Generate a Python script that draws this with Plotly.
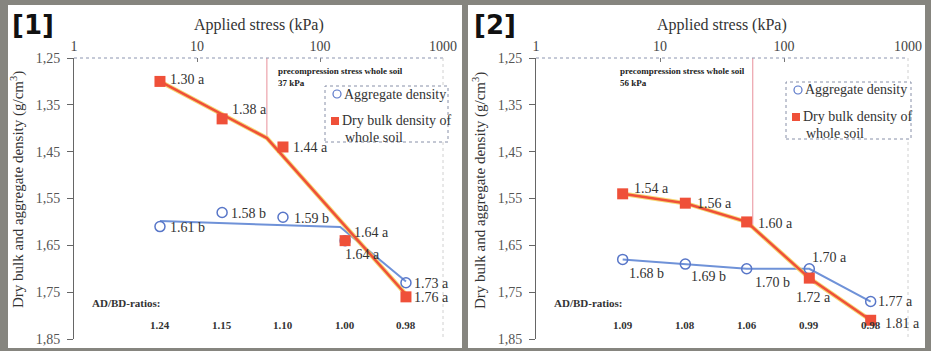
import math
import plotly.graph_objects as go

# ---------------- data ----------------
stress = [5, 16, 50, 160, 500]

p1_bulk = [1.30, 1.38, 1.44, 1.64, 1.76]
p1_bulk_sig = ["a", "a", "a", "a", "a"]
p1_agg = [1.61, 1.58, 1.59, 1.64, 1.73]
p1_agg_sig = ["b", "b", "b", "a", "a"]
p1_bulk_fit_x = [5, 37, 500]
p1_bulk_fit_y = [1.30, 1.421, 1.755]
p1_agg_fit_x = [5, 146, 500]
p1_agg_fit_y = [1.598, 1.611, 1.727]
p1_ratios = ["1.24", "1.15", "1.10", "1.00", "0.98"]
p1_precomp = 37
p1_precomp_y = 1.421

p2_bulk = [1.54, 1.56, 1.60, 1.72, 1.81]
p2_bulk_sig = ["a", "a", "a", "a", "a"]
p2_agg = [1.68, 1.69, 1.70, 1.70, 1.77]
p2_agg_sig = ["b", "b", "b", "a", "a"]
p2_ratios = ["1.09", "1.08", "1.06", "0.99", "0.98"]
p2_precomp = 56
p2_precomp_y = 1.612

y_ticks = [1.25, 1.35, 1.45, 1.55, 1.65, 1.75, 1.85]
y_ticktext = ["1,25", "1,35", "1,45", "1,55", "1,65", "1,75", "1,85"]
x_ticks = [1, 10, 100, 1000]
x_ticktext = ["1", "10", "100", "1000"]

# ---------------- layout helpers ----------------
W, H = 931, 351
def px(x):
    return x / W
def py(y):
    return 1 - y / H

SERIF = "Liberation Serif"
RED = "#EF5039"
YEL = "#F4CF52"
BLUE = "#6F92D8"
BLUE_M = "#5876C8"
TXT = "#333333"

fig = go.Figure()

panels = [
    dict(xa="x", ya="y", left=74, right=443, bulk=p1_bulk, agg=p1_agg,
         bsig=p1_bulk_sig, asig=p1_agg_sig,
         bfx=p1_bulk_fit_x, bfy=p1_bulk_fit_y, afx=p1_agg_fit_x, afy=p1_agg_fit_y,
         ratios=p1_ratios, pc=p1_precomp, pcy=p1_precomp_y, label="[1]"),
    dict(xa="x2", ya="y2", left=536, right=908, bulk=p2_bulk, agg=p2_agg,
         bsig=p2_bulk_sig, asig=p2_agg_sig,
         bfx=stress, bfy=p2_bulk, afx=stress, afy=p2_agg,
         ratios=p2_ratios, pc=p2_precomp, pcy=p2_precomp_y, label="[2]"),
]

# label offsets (xshift, yshift, xanchor)
p1_bulk_off = [(8, 2, "left"), (8, 9, "left"), (8, -1, "left"), (-2, -14, "left"), (6, -1, "left")]
p1_agg_off = [(8, -1, "left"), (7, -1, "left"), (9, -1, "left"), (7, 8, "left"), (6, -1, "left")]
p2_bulk_off = [(9, 5, "left"), (10, 0, "left"), (9, -2, "left"), (4, -19, "center"), (12, -3, "left")]
p2_agg_off = [(4, -14, "left"), (4, -12, "left"), (6, -14, "left"), (1, 11, "left"), (5, 0, "left")]
offs = [(p1_bulk_off, p1_agg_off), (p2_bulk_off, p2_agg_off)]

shapes = []
annotations = []

# white panels
for (l, r) in [(8, 462), (468, 925)]:
    shapes.append(dict(type="rect", xref="paper", yref="paper", x0=px(l), x1=px(r),
                       y0=py(348), y1=py(5), fillcolor="white", line=dict(width=0), layer="below"))

for i, p in enumerate(panels):
    xa, ya = p["xa"], p["ya"]
    L, R = p["left"], p["right"]
    # precompression vertical line
    fig.add_trace(go.Scatter(x=[p["pc"], p["pc"]], y=[1.25, p["pcy"]], mode="lines",
                             line=dict(color="#E8909A", width=1), xaxis=xa, yaxis=ya,
                             showlegend=False, hoverinfo="skip"))
    # aggregate fit line
    fig.add_trace(go.Scatter(x=p["afx"], y=p["afy"], mode="lines",
                             line=dict(color=BLUE, width=2), xaxis=xa, yaxis=ya,
                             showlegend=False, hoverinfo="skip"))
    # bulk fit line (yellow halo + red)
    fig.add_trace(go.Scatter(x=p["bfx"], y=p["bfy"], mode="lines",
                             line=dict(color=YEL, width=4.5), opacity=0.8, xaxis=xa, yaxis=ya,
                             showlegend=False, hoverinfo="skip"))
    fig.add_trace(go.Scatter(x=p["bfx"], y=p["bfy"], mode="lines",
                             line=dict(color=RED, width=2.5), xaxis=xa, yaxis=ya,
                             showlegend=False, hoverinfo="skip"))
    # markers
    fig.add_trace(go.Scatter(x=stress, y=p["agg"], mode="markers",
                             marker=dict(symbol="circle-open", size=10, color=BLUE_M,
                                         line=dict(width=1.5, color=BLUE_M)),
                             xaxis=xa, yaxis=ya, showlegend=False))
    fig.add_trace(go.Scatter(x=stress, y=p["bulk"], mode="markers",
                             marker=dict(symbol="square", size=11, color=RED),
                             xaxis=xa, yaxis=ya, showlegend=False))

    # value labels
    boff, aoff = offs[i]
    for j, s in enumerate(stress):
        for vals, sig, off in [(p["bulk"], p["bsig"], boff), (p["agg"], p["asig"], aoff)]:
            xs, ys, anc = off[j]
            annotations.append(dict(x=math.log10(s), y=vals[j], xref=xa, yref=ya,
                                    text=f"{vals[j]:.2f} {sig[j]}", showarrow=False,
                                    xanchor=anc, yanchor="middle", xshift=xs, yshift=ys,
                                    font=dict(family=SERIF, size=14, color=TXT)))
        # ratio labels
        annotations.append(dict(x=math.log10(s), y=1.82, xref=xa, yref=ya, text=f"<b>{p['ratios'][j]}</b>",
                                showarrow=False, xanchor="center", yanchor="middle",
                                font=dict(family=SERIF, size=11, color=TXT)))
    annotations.append(dict(x=px(L + 16), y=py(303), xref="paper", yref="paper",
                            text="<b>AD/BD-ratios:</b>", showarrow=False, xanchor="left",
                            yanchor="middle", font=dict(family=SERIF, size=11, color=TXT)))

    # precompression text
    pc_text = f"<b>precompression stress whole soil<br>{p['pc']} kPa</b>"
    if i == 0:
        annotations.append(dict(x=math.log10(p["pc"]), y=1.25, xref=xa, yref=ya, text=pc_text,
                                showarrow=False, xanchor="left", yanchor="top", align="left",
                                xshift=9, yshift=-6,
                                font=dict(family=SERIF, size=9, color="#222")))
    else:
        annotations.append(dict(x=math.log10(p["pc"]), y=1.25, xref=xa, yref=ya, text=pc_text,
                                showarrow=False, xanchor="right", yanchor="top", align="left",
                                xshift=-6, yshift=-6,
                                font=dict(family=SERIF, size=9, color="#222")))

    # frame: dotted top, dotted right
    shapes.append(dict(type="line", xref="paper", yref="paper", x0=px(L), x1=px(R),
                       y0=py(58), y1=py(58), line=dict(color="#8C95B0", width=1, dash="dot")))
    shapes.append(dict(type="line", xref="paper", yref="paper", x0=px(R), x1=px(R),
                       y0=py(58), y1=py(339), line=dict(color="#D0D0D0", width=1, dash="dot")))

    # legend box
    if i == 0:
        bx0, bx1, by0, by1 = 325, 448, 86, 142
    else:
        bx0, bx1, by0, by1 = 786, 911, 82, 139
    shapes.append(dict(type="rect", xref="paper", yref="paper", x0=px(bx0), x1=px(bx1),
                       y0=py(by1), y1=py(by0), line=dict(color="#8890A8", width=1, dash="dot"),
                       fillcolor="white"))
    cx, cy = bx0 + 12, by0 + 8
    shapes.append(dict(type="circle", xref="paper", yref="paper", x0=px(cx - 4), x1=px(cx + 4),
                       y0=py(cy + 4), y1=py(cy - 4), line=dict(color=BLUE_M, width=1.2)))
    sx, sy = bx0 + 10, by0 + 35
    shapes.append(dict(type="rect", xref="paper", yref="paper", x0=px(sx - 4), x1=px(sx + 4),
                       y0=py(sy + 4), y1=py(sy - 4), line=dict(width=0), fillcolor=RED))
    annotations.append(dict(x=px(cx + 5), y=py(cy), xref="paper", yref="paper",
                            text="Aggregate density", showarrow=False, xanchor="left",
                            yanchor="middle", font=dict(family=SERIF, size=14, color=TXT)))
    annotations.append(dict(x=px(sx + 5), y=py(sy), xref="paper", yref="paper",
                            text="Dry bulk density of", showarrow=False, xanchor="left",
                            yanchor="middle", font=dict(family=SERIF, size=14, color=TXT)))
    annotations.append(dict(x=px(sx + 8), y=py(sy + 16), xref="paper", yref="paper",
                            text="whole soil", showarrow=False, xanchor="left",
                            yanchor="middle", font=dict(family=SERIF, size=14, color=TXT)))

    # titles
    annotations.append(dict(x=px((L + R) / 2), y=py(25), xref="paper", yref="paper",
                            text="Applied stress (kPa)", showarrow=False, xanchor="center",
                            yanchor="middle", font=dict(family=SERIF, size=16, color=TXT)))
    annotations.append(dict(x=px(L - 57), y=py(190), xref="paper", yref="paper",
                            text="Dry bulk and aggregate density (g/cm<sup>3</sup>)", showarrow=False,
                            textangle=-90, xanchor="center", yanchor="middle",
                            font=dict(family=SERIF, size=15, color=TXT)))
    annotations.append(dict(x=px(L - 64), y=py(25), xref="paper", yref="paper",
                            text="<b>" + p["label"] + "</b>", showarrow=False, xanchor="left",
                            yanchor="middle", font=dict(family="DejaVu Sans", size=26, color="#111")))

xaxis_common = dict(type="log", range=[0, 3], side="top", showgrid=False, zeroline=False,
                    showline=False, ticks="inside", ticklen=4, tickcolor="#777",
                    tickvals=x_ticks, ticktext=x_ticktext, automargin=False,
                    ticklabelstandoff=3,
                    tickfont=dict(family=SERIF, size=14, color="#444"))
yaxis_common = dict(range=[1.85, 1.25], showgrid=False, zeroline=False, showline=True,
                    linecolor="#666", linewidth=1, ticks="outside", ticklen=6, tickcolor="#666",
                    tickvals=y_ticks, ticktext=y_ticktext, automargin=False,
                    ticklabelstandoff=4,
                    tickfont=dict(family=SERIF, size=14, color="#555"))

fig.update_layout(
    width=W, height=H,
    margin=dict(l=0, r=0, t=0, b=0, pad=0, autoexpand=False),
    paper_bgcolor="#86857F",
    plot_bgcolor="rgba(0,0,0,0)",
    showlegend=False,
    xaxis=dict(domain=[px(74), px(443)], anchor="y", **xaxis_common),
    yaxis=dict(domain=[py(339), py(58)], anchor="x", **yaxis_common),
    xaxis2=dict(domain=[px(536), px(908)], anchor="y2", **xaxis_common),
    yaxis2=dict(domain=[py(339), py(58)], anchor="x2", **yaxis_common),
    shapes=shapes,
    annotations=annotations,
)

fig.write_html("out.html", config={"displayModeBar": False},
               post_script="document.body.style.margin='0';document.body.style.overflow='hidden';")
